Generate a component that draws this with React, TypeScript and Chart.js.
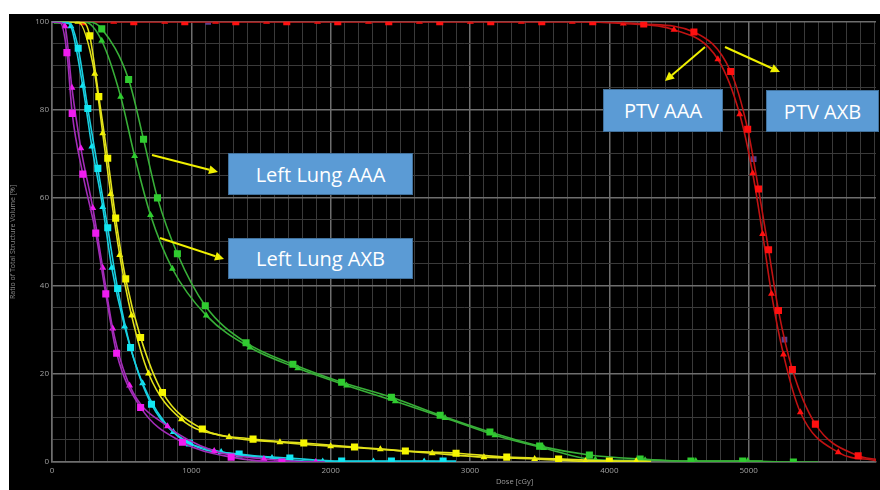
import React, { useEffect, useRef } from "react";
import { Chart, registerables } from "chart.js";

Chart.register(...registerables);

// ---- Data (dose in cGy, ratio of total structure volume in %) ----
const doseMin = 0;
const doseMax = 5914;
const xTickLabels = [0, 1000, 2000, 3000, 4000, 5000];
const yTickLabels = [0, 20, 40, 60, 80, 100];

// Heart-like magenta pair
const magSqDose = [0, 60, 107, 145, 221, 314, 386, 464, 636, 936, 1286, 1650, 1950];
const magSqVol = [100, 99.8, 93, 79.2, 65.4, 52, 38.2, 24.7, 12.4, 4.5, 1.1, 0, 0];
const magSqPlain = [0, 1, 12];
const magTrDose = [0, 60, 93, 143, 207, 293, 364, 436, 557, 829, 1164, 1521, 1893, 1960];
const magTrVol = [100, 99.8, 99, 85, 71.3, 57.7, 44.1, 30.3, 17.4, 8.1, 2.5, 0.7, 0, 0];
const magTrPlain = [0, 1, 13];

// Cyan pair
const cyaSqDose = [0, 130, 188, 257, 329, 400, 471, 564, 714, 986, 1343, 1707, 2079, 2436, 2807, 2900];
const cyaSqVol = [100, 99.5, 94, 80.3, 66.7, 53.2, 39.4, 26, 13.1, 4.3, 1.8, 0.9, 0.2, 0.2, 0.2, 0.2];
const cyaSqPlain = [0, 1, 15];
const cyaTrDose = [0, 100, 136, 220, 286, 364, 429, 521, 650, 871, 1214, 1579, 1943, 2307, 2671, 2750];
const cyaTrVol = [100, 100, 99, 85.5, 71.7, 57.9, 44.1, 30.8, 17.9, 6.8, 2.3, 0.9, 0.1, 0.1, 0.1, 0.1];
const cyaTrPlain = [0, 1, 15];

// Yellow pair
const yelSqDose = [0, 230, 271, 336, 400, 457, 529, 636, 793, 1079, 1443, 1807, 2171, 2536, 2900, 3264, 3636, 4000, 4150];
const yelSqVol = [100, 99.8, 96.8, 83, 69, 55.4, 41.6, 28.3, 15.8, 7.5, 5.2, 4.3, 3.4, 2.5, 2.0, 1.1, 0.7, 0.2, 0.1];
const yelSqPlain = [0, 1, 18];
const yelTrDose = [0, 186, 307, 364, 421, 486, 571, 693, 929, 1271, 1636, 2000, 2357, 2729, 3100, 3464, 3829, 4193, 4300];
const yelTrVol = [100, 100, 88.2, 74.7, 60.9, 47, 33.3, 20.1, 9.7, 5.7, 4.5, 3.6, 2.9, 2.0, 1.1, 0.7, 0.2, 0.2, 0.1];
const yelTrPlain = [0, 18];

// Left Lung (green) pair: squares = AAA, triangles = AXB
const grnSqDose = [0, 280, 357, 550, 657, 757, 900, 1100, 1393, 1729, 2079, 2436, 2786, 3143, 3500, 3857, 4221, 4586, 4957, 5321, 5500];
const grnSqVol = [100, 99.9, 98.4, 86.9, 73.3, 60, 47.3, 35.5, 27.1, 22.2, 18.1, 14.7, 10.6, 6.8, 3.6, 1.6, 0.7, 0.2, 0.2, 0, 0];
const grnSqPlain = [0, 1, 20];
const grnTrDose = [0, 36, 240, 357, 493, 593, 707, 864, 1107, 1421, 1764, 2114, 2464, 2821, 3179, 3529, 3900, 4257, 4621, 4993, 5100];
const grnTrVol = [100, 100, 99.9, 95.7, 83, 69.5, 56.1, 43.9, 33.3, 26, 21.3, 17.4, 13.8, 10, 6.1, 3.2, 0.5, 0.4, 0.2, 0.2, 0.2];
const grnTrPlain = [0, 2, 20];

// PTV (red) pair
const redSqDose = [0, 221, 587, 953, 1319, 1685, 2051, 2417, 2783, 3149, 3515, 3881, 4247, 4607, 4871, 4993, 5071, 5143, 5214, 5314, 5479, 5786, 5914];
const redSqVol = [100, 100, 100, 100, 100, 100, 100, 100, 100, 100, 100, 100, 99.5, 97.7, 88.7, 75.6, 62, 48.2, 34.4, 21, 8.6, 1.4, 0.6];
const redSqPlain = [0, 22];
const redTrDose = [0, 443, 809, 1174, 1540, 1906, 2272, 2637, 3003, 3369, 3734, 4100, 4464, 4779, 4936, 5029, 5100, 5164, 5250, 5371, 5643, 5914];
const redTrVol = [100, 100, 100, 100, 100, 100, 100, 100, 100, 100, 100, 99.6, 98.2, 91.5, 79, 65.6, 51.8, 38.2, 24.4, 11.3, 2.2, 0.3];
const redTrPlain = [0, 21];

// Stray dark-violet markers
const violetDose = [1121, 5036, 5257];
const violetVol = [100, 68.8, 27.8];

const annotations = [
  { text: "Left Lung AAA", left: 228, top: 153, width: 185, height: 42 },
  { text: "Left Lung AXB", left: 228, top: 238, width: 185, height: 41 },
  { text: "PTV AAA", left: 603, top: 89, width: 120, height: 43 },
  { text: "PTV AXB", left: 766, top: 90, width: 113, height: 42 },
];
const arrows = [
  { x1: 152, y1: 155, x2: 218, y2: 172 },
  { x1: 160, y1: 238, x2: 224, y2: 259 },
  { x1: 705, y1: 47, x2: 665, y2: 81 },
  { x1: 725, y1: 47, x2: 780, y2: 72 },
];

function pts(d: number[], v: number[]) {
  return d.map((x, i) => ({ x, y: v[i] }));
}

function curve(
  d: number[],
  v: number[],
  plain: number[],
  line: string,
  marker: string,
  style: string,
  r: number
) {
  return {
    data: pts(d, v),
    borderColor: line,
    borderWidth: 1.6,
    backgroundColor: marker,
    pointBackgroundColor: marker,
    pointBorderColor: marker,
    pointBorderWidth: 0,
    pointStyle: style,
    pointRadius: (ctx: any) => (plain.includes(ctx.dataIndex) ? 0 : r),
    cubicInterpolationMode: "monotone",
    fill: false,
  };
}

export default function App() {
  const ref = useRef<HTMLCanvasElement | null>(null);

  useEffect(() => {
    document.body.style.margin = "0";
    const canvas = ref.current!;
    const textPlugin = {
      id: "xTitle",
      afterDraw(chart: any) {
        const c = chart.ctx;
        const xs = chart.scales.x;
        c.save();
        c.fillStyle = "#9a9a9a";
        c.font = "7.5px 'Open Sans'";
        c.textAlign = "center";
        c.textBaseline = "middle";
        c.fillText("Dose [cGy]", xs.getPixelForValue(3320), chart.chartArea.bottom + 20);
        c.restore();
      },
    };
    const chart = new Chart(canvas, {
      type: "line",
      data: {
        datasets: [
          curve(magSqDose, magSqVol, magSqPlain, "#a32cb8", "#f01cf0", "rect", 5),
          curve(magTrDose, magTrVol, magTrPlain, "#a32cb8", "#f01cf0", "triangle", 4),
          curve(cyaSqDose, cyaSqVol, cyaSqPlain, "#18cfe0", "#12e6f2", "rect", 5),
          curve(cyaTrDose, cyaTrVol, cyaTrPlain, "#18cfe0", "#12e6f2", "triangle", 4),
          curve(yelSqDose, yelSqVol, yelSqPlain, "#e2e21a", "#f6f600", "rect", 5),
          curve(yelTrDose, yelTrVol, yelTrPlain, "#e2e21a", "#f6f600", "triangle", 4),
          curve(grnSqDose, grnSqVol, grnSqPlain, "#38b038", "#30cc30", "rect", 5),
          curve(grnTrDose, grnTrVol, grnTrPlain, "#38b038", "#30cc30", "triangle", 4),
          curve(redSqDose, redSqVol, redSqPlain, "#c01212", "#ff1010", "rect", 5),
          curve(redTrDose, redTrVol, redTrPlain, "#c01212", "#ff1010", "triangle", 4),
          {
            data: pts(violetDose, violetVol),
            showLine: false,
            pointStyle: "rect",
            pointRadius: 4,
            pointBackgroundColor: "#5a3f8c",
            pointBorderWidth: 0,
          } as any,
        ] as any,
      },
      options: {
        responsive: false,
        animation: false,
        layout: { padding: { top: 6, right: 0, left: 0, bottom: 0 } },
        plugins: { legend: { display: false }, tooltip: { enabled: false } },
        scales: {
          x: {
            type: "linear",
            min: doseMin,
            max: doseMax,
            afterFit(scale: any) {
              scale.height = 28;
            },
            afterBuildTicks(scale: any) {
              const t = [];
              for (let v = 0; v <= 5900; v += 100) t.push({ value: v });
              scale.ticks = t;
            },
            ticks: {
              autoSkip: false,
              maxRotation: 0,
              padding: 4,
              color: "#a0a0a0",
              font: { size: 8, family: "'Open Sans'" },
              callback: (v: any) => (xTickLabels.includes(Number(v)) ? String(v) : ""),
            },
            grid: {
              drawTicks: false,
              color: (ctx: any) =>
                ctx.tick && ctx.tick.value % 1000 === 0 ? "#6e6e6e" : "#3a3a3a",
              lineWidth: (ctx: any) => (ctx.tick && ctx.tick.value % 1000 === 0 ? 1.5 : 1),
            },
            border: { color: "#6e6e6e", width: 1.5 },
          },
          y: {
            type: "linear",
            min: 0,
            max: 100,
            afterFit(scale: any) {
              scale.width = 43;
            },
            afterBuildTicks(scale: any) {
              const t = [];
              for (let v = 0; v <= 100; v += 5) t.push({ value: v });
              scale.ticks = t;
            },
            ticks: {
              autoSkip: false,
              padding: 3,
              color: "#a0a0a0",
              font: { size: 8, family: "'Open Sans'" },
              callback: (v: any) => (yTickLabels.includes(Number(v)) ? String(v) : ""),
            },
            title: {
              display: true,
              text: "Ratio of Total Structure Volume [%]",
              color: "#8c8c8c",
              font: { size: 7, family: "'Open Sans'" },
              padding: { top: 0, bottom: 0 },
            },
            grid: {
              drawTicks: false,
              color: (ctx: any) =>
                ctx.tick && ctx.tick.value % 20 === 0 ? "#6e6e6e" : "#3a3a3a",
              lineWidth: (ctx: any) => (ctx.tick && ctx.tick.value % 20 === 0 ? 1.5 : 1),
            },
            border: { color: "#6e6e6e", width: 1.5 },
          },
        },
      } as any,
      plugins: [textPlugin],
    });
    return () => chart.destroy();
  }, []);

  return (
    <div style={{ position: "fixed", left: 0, top: 0, width: 880, height: 490, background: "#fff", overflow: "hidden" }}>
      <div style={{ position: "absolute", left: 9, top: 14, width: 871, height: 476, background: "#000" }}>
        <canvas ref={ref} width={871} height={476} style={{ width: 871, height: 476, display: "block" }} />
      </div>
      <svg width={880} height={490} style={{ position: "absolute", left: 0, top: 0, pointerEvents: "none" }}>
        {arrows.map((a, i) => {
          const ang = Math.atan2(a.y2 - a.y1, a.x2 - a.x1);
          const L = 9, W = 4.5;
          const bx = a.x2 - L * Math.cos(ang), by = a.y2 - L * Math.sin(ang);
          const px = -Math.sin(ang) * W, py = Math.cos(ang) * W;
          return (
            <g key={i}>
              <line x1={a.x1} y1={a.y1} x2={bx} y2={by} stroke="#f0f000" strokeWidth={2} />
              <polygon points={`${a.x2},${a.y2} ${bx + px},${by + py} ${bx - px},${by - py}`} fill="#f0f000" />
            </g>
          );
        })}
      </svg>
      {annotations.map((b, i) => (
        <div
          key={i}
          style={{
            position: "absolute",
            left: b.left,
            top: b.top,
            width: b.width,
            height: b.height,
            boxSizing: "border-box",
            background: "#5b9bd5",
            border: "1px solid #41719c",
            color: "#fff",
            fontFamily: "'Open Sans', sans-serif",
            fontSize: 20,
            display: "flex",
            alignItems: "center",
            justifyContent: "center",
            whiteSpace: "nowrap",
          }}
        >
          {b.text}
        </div>
      ))}
    </div>
  );
}
